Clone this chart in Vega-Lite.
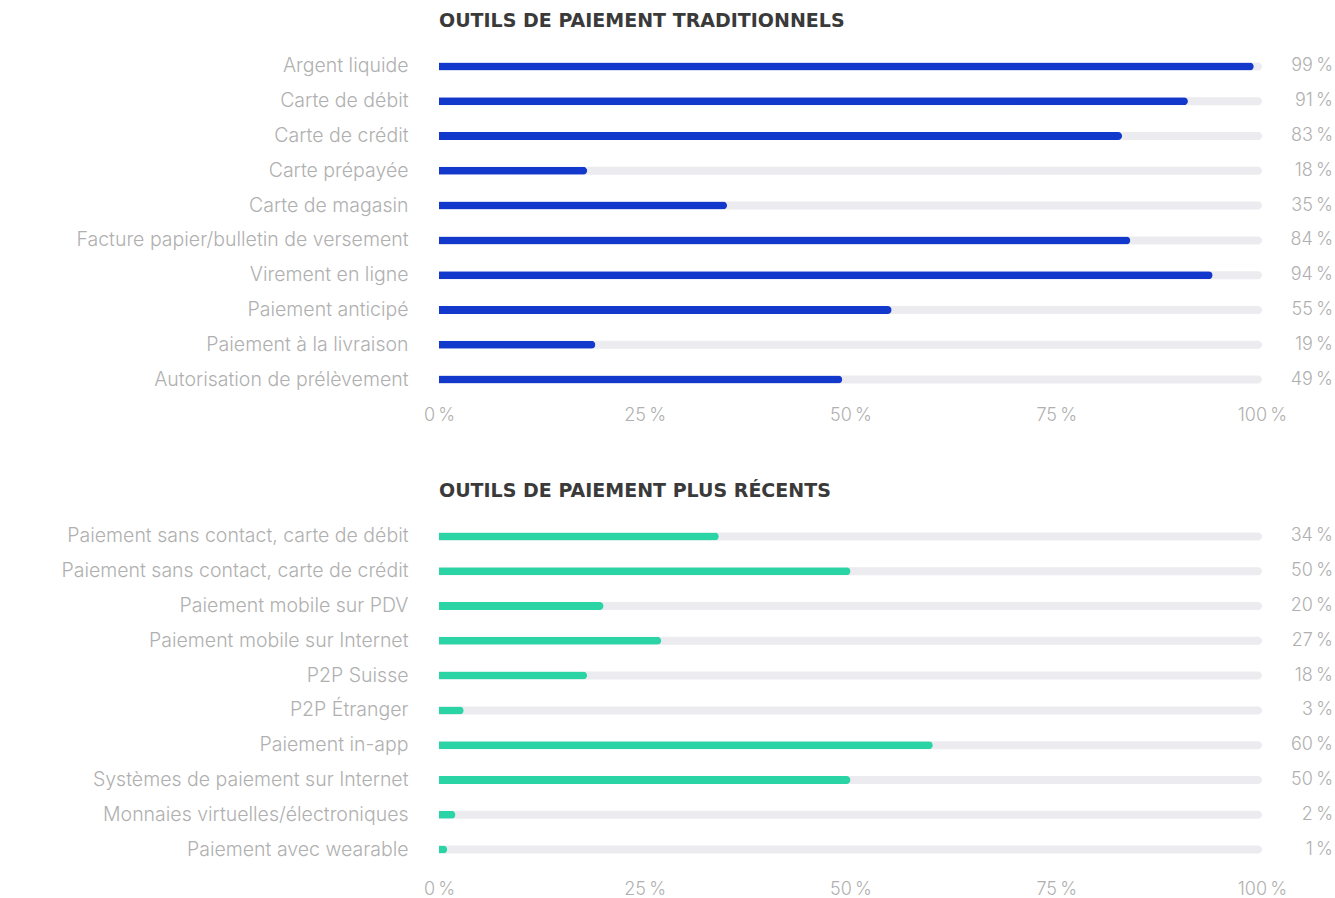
{
  "$schema": "https://vega.github.io/schema/vega-lite/v6.json",
  "padding": {"left": 5, "top": 12, "right": 2, "bottom": 2},
  "background": "white",
  "spacing": 58,
  "config": {
    "view": {"stroke": null},
    "font": "Inter",
    "title": {"font": "DejaVu Sans", "fontSize": 19, "fontWeight": "bold", "color": "#3a3a3a", "anchor": "start", "frame": "group", "offset": 18},
    "axisY": {"domain": false, "ticks": false, "grid": false, "title": null, "labelFont": "Inter", "labelFontWeight": 300, "labelFontSize": 19.5, "labelColor": "#b0b0b0", "labelPadding": 31, "minExtent": 434, "maxExtent": 434, "labelLimit": 420},
    "axisX": {"domain": false, "ticks": false, "grid": false, "title": null, "labelFont": "Inter", "labelFontWeight": 300, "labelFontSize": 18, "labelColor": "#b0b0b0", "labelPadding": 9, "labelFlush": false}
  },
  "datasets": {
    "trad": [
      {"outil": "Argent liquide", "v": 99},
      {"outil": "Carte de débit", "v": 91},
      {"outil": "Carte de crédit", "v": 83},
      {"outil": "Carte prépayée", "v": 18},
      {"outil": "Carte de magasin", "v": 35},
      {"outil": "Facture papier/bulletin de versement", "v": 84},
      {"outil": "Virement en ligne", "v": 94},
      {"outil": "Paiement anticipé", "v": 55},
      {"outil": "Paiement à la livraison", "v": 19},
      {"outil": "Autorisation de prélèvement", "v": 49}
    ],
    "recent": [
      {"outil": "Paiement sans contact, carte de débit", "v": 34},
      {"outil": "Paiement sans contact, carte de crédit", "v": 50},
      {"outil": "Paiement mobile sur PDV", "v": 20},
      {"outil": "Paiement mobile sur Internet", "v": 27},
      {"outil": "P2P Suisse", "v": 18},
      {"outil": "P2P Étranger", "v": 3},
      {"outil": "Paiement in-app", "v": 60},
      {"outil": "Systèmes de paiement sur Internet", "v": 50},
      {"outil": "Monnaies virtuelles/électroniques", "v": 2},
      {"outil": "Paiement avec wearable", "v": 1}
    ]
  },
  "vconcat": [
    {
      "title": "OUTILS DE PAIEMENT TRADITIONNELS",
      "data": {"name": "trad"},
      "transform": [{"calculate": "datum.v + '\u2009%'", "as": "lbl"}],
      "width": 823,
      "height": 348,
      "encoding": {
        "y": {"field": "outil", "type": "nominal", "sort": null}
      },
      "layer": [
        {"mark": {"type": "bar", "size": 8, "color": "#ebebf0", "cornerRadiusEnd": 4}, "encoding": {"x": {"datum": 100, "type": "quantitative", "scale": {"domain": [0, 100], "nice": false}, "axis": {"values": [0, 25, 50, 75, 100], "labelExpr": "datum.value + '\u2009%'"}}}},
        {"mark": {"type": "bar", "size": 8, "color": "#1239cc", "cornerRadiusEnd": 4}, "encoding": {"x": {"field": "v", "type": "quantitative"}}},
        {"mark": {"type": "text", "align": "right", "baseline": "middle", "dx": 71, "font": "Inter", "fontWeight": 300, "fontSize": 18, "color": "#b0b0b0"}, "encoding": {"x": {"datum": 100, "type": "quantitative"}, "text": {"field": "lbl"}}}
      ]
    },
    {
      "title": "OUTILS DE PAIEMENT PLUS RÉCENTS",
      "data": {"name": "recent"},
      "transform": [{"calculate": "datum.v + '\u2009%'", "as": "lbl"}],
      "width": 823,
      "height": 348,
      "encoding": {
        "y": {"field": "outil", "type": "nominal", "sort": null}
      },
      "layer": [
        {"mark": {"type": "bar", "size": 8, "color": "#ebebf0", "cornerRadiusEnd": 4}, "encoding": {"x": {"datum": 100, "type": "quantitative", "scale": {"domain": [0, 100], "nice": false}, "axis": {"values": [0, 25, 50, 75, 100], "labelExpr": "datum.value + '\u2009%'", "labelPadding": 13}}}},
        {"mark": {"type": "bar", "size": 8, "color": "#2bd4a5", "cornerRadiusEnd": 4}, "encoding": {"x": {"field": "v", "type": "quantitative"}}},
        {"mark": {"type": "text", "align": "right", "baseline": "middle", "dx": 71, "font": "Inter", "fontWeight": 300, "fontSize": 18, "color": "#b0b0b0"}, "encoding": {"x": {"datum": 100, "type": "quantitative"}, "text": {"field": "lbl"}}}
      ]
    }
  ]
}
